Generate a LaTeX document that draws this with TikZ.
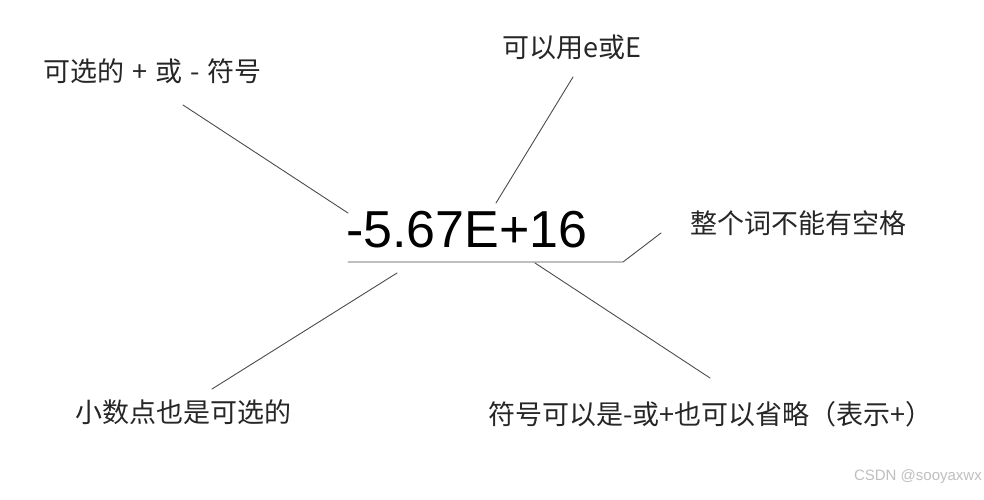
\documentclass[tikz,border=0pt]{standalone}
\usepackage{fontspec}
\setmainfont{Liberation Sans}
\newfontfamily\cjk{Noto Sans CJK SC}
\usepackage{tikz}

\tikzset{
  lbl/.style={font=\cjk\fontsize{27}{32}\selectfont, text=black!85, inner sep=0pt, anchor=base west},
  lead/.style={black!70, line width=0.9pt, line cap=round}
}

\begin{document}
\begin{tikzpicture}[x=1pt,y=-1pt]
\useasboundingbox[fill=white] (0,0) rectangle (984,500);
\node[inner sep=0pt, anchor=base west, font=\fontsize{52}{60}\selectfont] (num) at (346,247) {-5.67E+16};
\node[lbl] (sign) at (43,82) {\spaceskip=8pt 可选的 + 或 - 符号};
\node[lbl] (expo) at (502,58) {可以用e或E};
\node[lbl] (space) at (690,233) {整个词不能有空格};
\node[lbl] (point) at (75,422) {小数点也是可选的};
\node[lbl] (omit) at (488,424) {符号可以是-或+也可以省略（表示+）};
\node[anchor=base east, inner sep=0pt, text=black!25, font=\fontsize{15}{18}\selectfont] (mark) at (982,480) {CSDN @sooyaxwx};
% end points of the leader lines
\coordinate (signA) at (183,105);
\coordinate (signB) at (348,213);
\coordinate (expoA) at (573,77);
\coordinate (expoB) at (496,203);
\coordinate (lineL) at (348,262);
\coordinate (lineR) at (623,262);
\coordinate (spaceA) at (661,233);
\coordinate (pointA) at (397,273);
\coordinate (pointB) at (212,389);
\coordinate (omitA) at (535,263);
\coordinate (omitB) at (710,378);
\draw[lead] (signA) -- (signB);
\draw[lead] (expoA) -- (expoB);
\draw[lead] (lineL) -- (lineR) -- (spaceA);
\draw[lead] (pointA) -- (pointB);
\draw[lead] (omitA) -- (omitB);
\end{tikzpicture}
\end{document}
